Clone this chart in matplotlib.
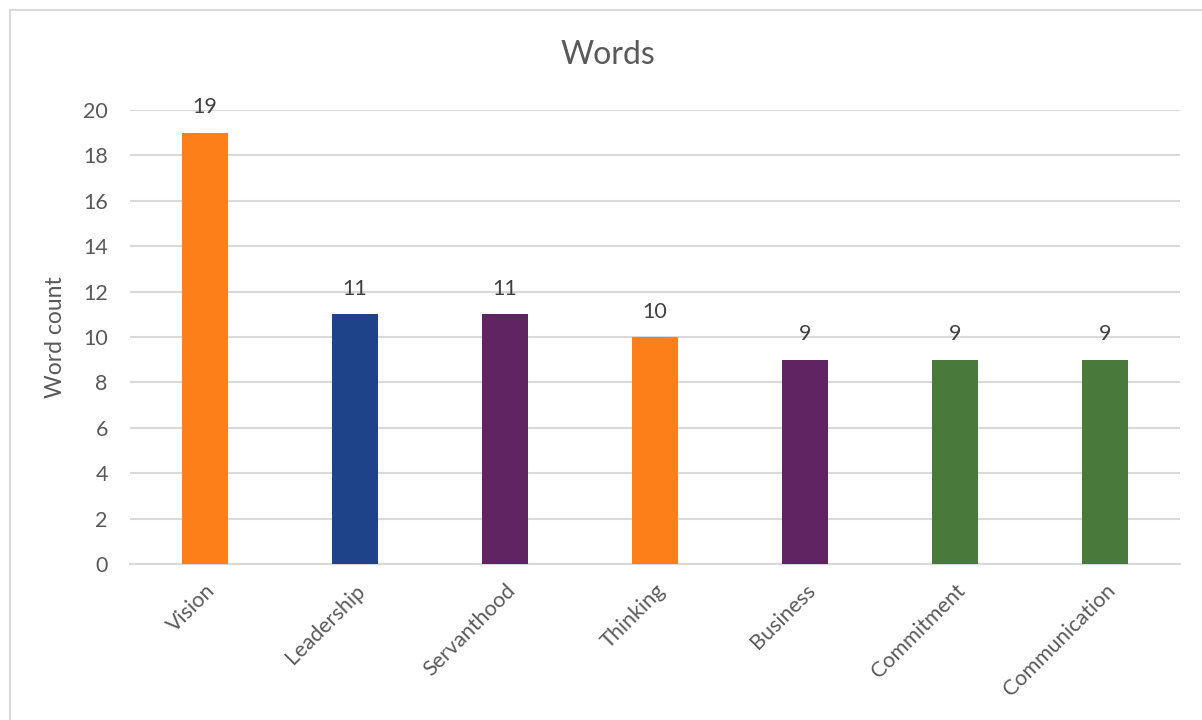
import matplotlib
matplotlib.use("Agg")
import matplotlib.pyplot as plt
from matplotlib.patches import Rectangle

categories = ["Vision", "Leadership", "Servanthood", "Thinking", "Business", "Commitment", "Communication"]
counts = [19, 11, 11, 10, 9, 9, 9]
bar_colors = ["#FD7F1A", "#1F4389", "#612462", "#FD7F1A", "#612462", "#4A7A3B", "#4A7A3B"]
y_ticks = [0, 2, 4, 6, 8, 10, 12, 14, 16, 18, 20]

plt.rcParams["font.family"] = ["Lato", "DejaVu Sans"]
text_color = "#595959"
grid_color = "#D9D9D9"

fig = plt.figure(figsize=(12.02, 7.2), dpi=100)
fig.patch.set_facecolor("white")

# outer chart border (only left/top visible in reference)
fig.add_artist(Rectangle((10 / 1202, -0.01), 1.2, 1 - 10 / 720 + 0.01,
                         transform=fig.transFigure, fill=False,
                         edgecolor=grid_color, linewidth=1.5))

ax = fig.add_axes([130 / 1202, 1 - 564 / 720, 1050 / 1202, 454 / 720])
x = range(len(categories))
bars = ax.bar(x, counts, width=0.31, color=bar_colors, zorder=3)

ax.set_ylim(0, 20)
ax.set_xlim(-0.5, len(categories) - 0.5)
ax.set_yticks(y_ticks)
ax.set_yticklabels([str(t) for t in y_ticks], fontsize=15.5, color=text_color)
ax.set_xticks(list(x))
ax.set_xticklabels(categories, rotation=45, ha="right", rotation_mode="anchor",
                   fontsize=15.5, color=text_color)
ax.tick_params(axis="y", length=0, pad=16)
ax.tick_params(axis="x", length=0, pad=12)

ax.grid(axis="y", color=grid_color, linewidth=1.5, zorder=0)
for s in ["top", "right", "left"]:
    ax.spines[s].set_visible(False)
ax.spines["bottom"].set_color(grid_color)
ax.spines["bottom"].set_linewidth(1.5)

for b, v in zip(bars, counts):
    ax.annotate(str(v), (b.get_x() + b.get_width() / 2, v), xytext=(0, 11),
                textcoords="offset points", ha="center", va="bottom",
                fontsize=15.5, color="#404040")

ax.set_ylabel("Word count", fontsize=16.5, color=text_color, labelpad=12)
fig.text(608 / 1202, 1 - 55 / 720, "Words", ha="center", va="center",
         fontsize=23, color=text_color)

fig.savefig("out.png", dpi=100, facecolor="white")
